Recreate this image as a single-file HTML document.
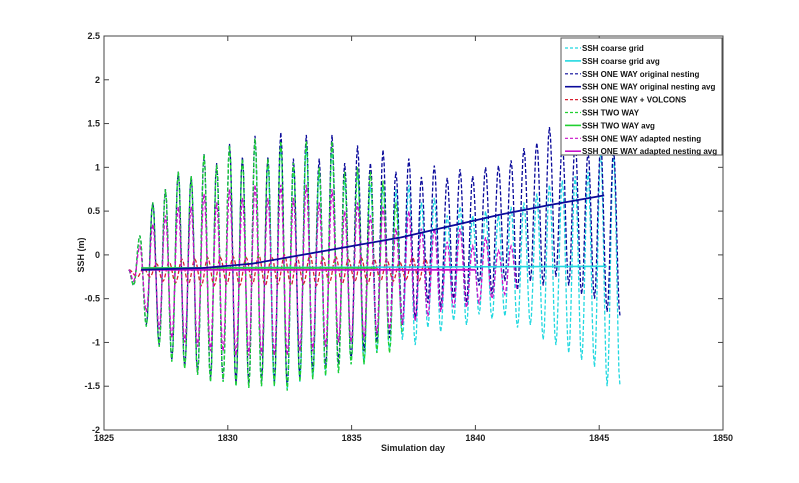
<!DOCTYPE html>
<html><head><meta charset="utf-8"><style>
body{margin:0;background:#fff;}
svg{display:block;font-family:"Liberation Sans",sans-serif;}
</style></head><body>
<svg id="chart" width="799" height="483" viewBox="0 0 799 483" xmlns="http://www.w3.org/2000/svg">
<rect width="799" height="483" fill="#fff"/>
<g id="series"></g>
<g id="axes"></g>
<g id="legend"></g>
</svg>
<script>
const xTicks=[1825,1830,1835,1840,1845,1850];
const yTicks=[-2,-1.5,-1,-0.5,0,0.5,1,1.5,2,2.5];
const cycleDays=[1826.45,1826.97,1827.48,1828.00,1828.52,1829.04,1829.55,1830.07,1830.59,1831.10,1831.62,1832.14,1832.65,1833.17,1833.69,1834.21,1834.72,1835.24,1835.76,1836.27,1836.79,1837.31,1837.82,1838.34,1838.86,1839.38,1839.89,1840.41,1840.93,1841.44,1841.96,1842.48,1842.99,1843.51,1844.03,1844.55,1845.06,1845.58];
const greenPeaks=[0.22,0.6,0.75,0.95,0.9,1.15,1.03,1.25,1.1,1.33,1.1,1.3,1.05,1.3,1.0,1.3,0.95,1.0,0.95,0.85,0.6];
const greenTroughs=[-0.82,-1.05,-1.22,-1.3,-1.37,-1.45,-1.45,-1.5,-1.52,-1.5,-1.5,-1.55,-1.45,-1.42,-1.38,-1.35,-1.25,-1.25,-1.12,-1.12,-0.9];
const navyPeaks=[0.22,0.6,0.75,0.95,0.9,1.15,1.05,1.27,1.12,1.36,1.12,1.4,1.1,1.37,1.1,1.37,1.05,1.25,1.05,1.2,0.95,1.1,0.89,1.02,0.88,0.98,0.9,1.0,1.02,1.08,1.22,1.28,1.46,1.26,1.28,1.18,1.27,1.2];
const navyTroughs=[-0.8,-1.03,-1.2,-1.28,-1.35,-1.42,-1.42,-1.47,-1.48,-1.45,-1.45,-1.5,-1.4,-1.35,-1.3,-1.25,-1.2,-1.1,-1.0,-0.95,-0.8,-0.75,-0.55,-0.6,-0.5,-0.55,-0.35,-0.45,-0.3,-0.4,-0.3,-0.35,-0.25,-0.35,-0.45,-0.5,-0.65,-0.7];
const cyanPeaks=[0.22,0.6,0.75,0.95,0.9,1.15,1.03,1.25,1.1,1.3,1.05,1.25,1.0,1.25,0.95,1.2,0.85,0.95,0.8,0.8,0.75,0.8,0.6,0.65,0.45,0.55,0.45,0.5,0.45,0.55,0.6,0.7,0.8,0.85,0.9,0.95,1.2,1.15];
const cyanTroughs=[-0.82,-1.05,-1.22,-1.3,-1.37,-1.45,-1.45,-1.5,-1.52,-1.5,-1.5,-1.55,-1.45,-1.42,-1.38,-1.35,-1.25,-1.25,-1.12,-1.1,-0.97,-1.03,-0.83,-0.88,-0.75,-0.8,-0.68,-0.73,-0.7,-0.83,-0.8,-0.97,-1.03,-1.12,-1.2,-1.28,-1.5,-1.5];
const magentaPeaks=[0.1,0.35,0.45,0.55,0.55,0.7,0.6,0.75,0.65,0.8,0.65,0.8,0.65,0.8,0.6,0.75,0.5,0.6,0.45,0.55,0.3,0.5,0.3,0.3,0.15,0.3,0.1,0.2,0.05,0.1];
const magentaTroughs=[-0.65,-0.85,-0.95,-1.0,-1.05,-1.1,-1.1,-1.15,-1.15,-1.15,-1.15,-1.15,-1.1,-1.1,-1.05,-1.0,-1.0,-0.95,-0.9,-0.85,-0.8,-0.75,-0.7,-0.65,-0.6,-0.6,-0.55,-0.5,-0.45,-0.4];
const redPeaks=[-0.15,-0.1,-0.08,-0.05,-0.05,-0.03,-0.03,-0.02,-0.03,0,-0.02,0,-0.03,0,-0.03,-0.02,-0.05,-0.03,-0.05,-0.05,-0.08,-0.03,-0.05];
const redTroughs=[-0.25,-0.3,-0.32,-0.33,-0.35,-0.35,-0.33,-0.35,-0.33,-0.35,-0.33,-0.35,-0.33,-0.35,-0.32,-0.33,-0.3,-0.33,-0.3,-0.3,-0.28,-0.3,-0.25];
const coarseAvg=[[1826.5,-0.15],[1845.3,-0.13]];
const originalAvg=[[1826.5,-0.17],[1829,-0.15],[1831,-0.1],[1833,0.0],[1835,0.1],[1837,0.2],[1839,0.33],[1841,0.46],[1843,0.57],[1845.2,0.68]];
const twoWayAvg=[[1826.5,-0.15],[1836,-0.15]];
const adaptedAvg=[[1826.5,-0.17],[1840,-0.17]];
const legendLabels=["SSH coarse grid","SSH coarse grid avg","SSH ONE WAY original nesting","SSH ONE WAY original nesting avg","SSH ONE WAY + VOLCONS","SSH TWO WAY","SSH TWO WAY avg","SSH ONE WAY adapted nesting","SSH ONE WAY adapted nesting avg"];

const NS="http://www.w3.org/2000/svg";
const X0=104,X1=723,Y0=430,Y1=36;
function xs(d){return X0+(d-1825)/25*(X1-X0);}
function ys(v){return Y0-(v+2)/4.5*(Y0-Y1);}
function mk(tag,attrs,parent){const e=document.createElementNS(NS,tag);for(const k in attrs)e.setAttribute(k,attrs[k]);parent.appendChild(e);return e;}
const gS=document.getElementById('series'),gA=document.getElementById('axes'),gL=document.getElementById('legend');

function oscPath(peaks,troughs,pre,shift){
  const ext=[[1826.0,-0.17],[1826.2+shift,pre]];
  for(let i=0;i<peaks.length;i++){
    ext.push([cycleDays[i]+shift,peaks[i]]);
    if(i<troughs.length) ext.push([cycleDays[i]+shift+0.26,troughs[i]]);
  }
  let d='M'+xs(ext[0][0]).toFixed(1)+' '+ys(ext[0][1]).toFixed(1);
  for(let k=1;k<ext.length;k++){
    const a=ext[k-1],b=ext[k];
    for(let s=1;s<=6;s++){
      const t=s/6,f=(1-Math.cos(Math.PI*t))/2;
      d+=' L'+xs(a[0]+(b[0]-a[0])*t).toFixed(1)+' '+ys(a[1]+(b[1]-a[1])*f).toFixed(1);
    }
  }
  return d;
}
function linePath(pts){return pts.map((p,i)=>(i?'L':'M')+xs(p[0]).toFixed(1)+' '+ys(p[1]).toFixed(1)).join(' ');}

const C={cyan:'#22d8e0',navy:'#0a0a9a',red:'#d82030',green:'#20d030',mag:'#c810c8'};
let p;
p=mk('path',{d:oscPath(cyanPeaks,cyanTroughs,-0.35,0),fill:'none',stroke:C.cyan,'stroke-width':1.3,'stroke-dasharray':'4 2'},gS);

p=mk('path',{d:oscPath(navyPeaks,navyTroughs,-0.35,0),fill:'none',stroke:C.navy,'stroke-width':1.3,'stroke-dasharray':'4 2'},gS);

p=mk('path',{d:oscPath(redPeaks,redTroughs,-0.25,0.15),fill:'none',stroke:C.red,'stroke-width':1.3,'stroke-dasharray':'4 2'},gS);

p=mk('path',{d:oscPath(greenPeaks,greenTroughs,-0.35,0),fill:'none',stroke:C.green,'stroke-width':1.3,'stroke-dasharray':'4 2'},gS);

p=mk('path',{d:oscPath(magentaPeaks,magentaTroughs,-0.3,0),fill:'none',stroke:C.mag,'stroke-width':1.3,'stroke-dasharray':'4 2'},gS);

p=mk('path',{d:linePath(coarseAvg),fill:'none',stroke:C.cyan,'stroke-width':1.6},gS);

p=mk('path',{d:linePath(twoWayAvg),fill:'none',stroke:C.green,'stroke-width':1.6},gS);

p=mk('path',{d:linePath(adaptedAvg),fill:'none',stroke:C.mag,'stroke-width':1.8},gS);

p=mk('path',{d:linePath(originalAvg),fill:'none',stroke:C.navy,'stroke-width':1.8},gS);


// axes
const box=mk('rect',{x:X0,y:Y1,width:X1-X0,height:Y0-Y1,fill:'none',stroke:'#444','stroke-width':1},gA);

xTicks.forEach(t=>{
  const x=xs(t);
  mk('line',{x1:x,x2:x,y1:Y0,y2:Y0-5,stroke:'#444'},gA);
  mk('line',{x1:x,x2:x,y1:Y1,y2:Y1+5,stroke:'#444'},gA);
  const tx=mk('text',{x:x,y:Y0+11,'text-anchor':'middle','font-size':9,'font-weight':'bold',fill:'#222'},gA);
  tx.textContent=t;
  
});
yTicks.forEach(t=>{
  const y=ys(t);
  mk('line',{x1:X0,x2:X0+5,y1:y,y2:y,stroke:'#444'},gA);
  mk('line',{x1:X1,x2:X1-5,y1:y,y2:y,stroke:'#444'},gA);
  const tx=mk('text',{x:X0-4,y:y+3,'text-anchor':'end','font-size':9,'font-weight':'bold',fill:'#222'},gA);
  tx.textContent=t;
  
});
let xl=mk('text',{x:413,y:451,'text-anchor':'middle','font-size':9,'font-weight':'bold',fill:'#222'},gA);
xl.textContent='Simulation day';

let yl=mk('text',{x:0,y:0,'text-anchor':'middle','font-size':9,'font-weight':'bold',fill:'#222',transform:'translate(84,255) rotate(-90)'},gA);
yl.textContent='SSH (m)';


// legend
const lb=mk('rect',{x:561,y:38,width:161,height:117,fill:'#fff',stroke:'#555','stroke-width':1},gL);

const legCols=[C.cyan,C.cyan,C.navy,C.navy,C.red,C.green,C.green,C.mag,C.mag];
const legDash=[true,false,true,false,true,true,false,true,false];
legendLabels.forEach((lab,i)=>{
  const y=48+i*12.9;
  const g=mk('g',{},gL);
  
  const a={x1:565,x2:581,y1:y,y2:y,stroke:legCols[i],'stroke-width':legDash[i]?1.2:1.6};
  if(legDash[i])a['stroke-dasharray']='3 2';
  mk('line',a,g);
  const t=mk('text',{x:582,y:y+3,'font-size':8,'font-weight':'bold',fill:'#111'},g);
  t.textContent=lab;
});
</script>
</body></html>
